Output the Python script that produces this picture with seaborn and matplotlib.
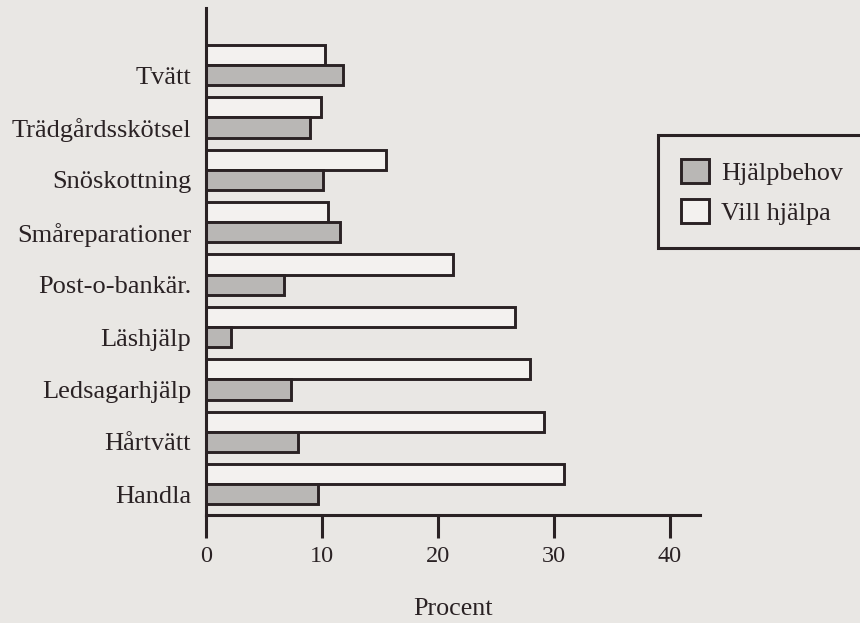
import pandas as pd
import numpy as np
import seaborn as sns
import matplotlib.pyplot as plt
from matplotlib.patches import Patch

# data (procent)
aktiviteter = ["Tvätt", "Trädgårdsskötsel", "Snöskottning", "Småreparationer",
               "Post-o-bankär.", "Läshjälp", "Ledsagarhjälp", "Hårtvätt", "Handla"]
vill_hjalpa = [10.2, 9.9, 15.5, 10.5, 21.3, 26.6, 27.9, 29.1, 30.9]
hjalpbehov = [11.8, 8.9, 10.1, 11.5, 6.7, 2.1, 7.3, 7.9, 9.6]
xticks = [0, 10, 20, 30, 40]

papper = "#e9e7e4"
bläck = "#2a2224"
färger = {"Vill hjälpa": "#f3f1ef", "Hjälpbehov": "#b9b7b5"}

sns.set_style("white")
plt.rcParams['font.family'] = ['Liberation Serif', 'DejaVu Serif']

df = pd.DataFrame({
    "aktivitet": aktiviteter * 2,
    "procent": vill_hjalpa + hjalpbehov,
    "grupp": ["Vill hjälpa"] * len(aktiviteter) + ["Hjälpbehov"] * len(aktiviteter),
})

fig = plt.figure(figsize=(8.6, 6.23), dpi=100, facecolor=papper)
ax = fig.add_axes([0.2401, 0.1734, 0.5738, 0.8138])
ax.set_facecolor(papper)

sns.barplot(data=df, y="aktivitet", x="procent", hue="grupp", order=aktiviteter,
            hue_order=["Vill hjälpa", "Hjälpbehov"], palette=färger, orient="h",
            width=0.77, edgecolor=bläck, linewidth=2.1, saturation=1,
            legend=False, ax=ax)

ax.set_xlim(0, 42.6)
ax.set_ylim(8.588, -1.088)

# etiketterna sitter i höjd med den grå stapeln
ax.set_yticks(np.arange(len(aktiviteter)) + 0.1925)
ax.set_yticklabels(aktiviteter)
ax.set_xticks(xticks)
ax.tick_params(axis="y", length=0, pad=11, labelsize=19, labelcolor=bläck)
ax.tick_params(axis="x", direction="out", length=16.5, width=2.2, color=bläck,
               pad=6, labelsize=17.5, labelcolor=bläck, bottom=True)

for s in ["top", "right"]:
    ax.spines[s].set_visible(False)
for s in ["left", "bottom"]:
    ax.spines[s].set_color(bläck)
    ax.spines[s].set_linewidth(2.2)

ax.set_ylabel("")
ax.set_xlabel("Procent", fontsize=18.8, color=bläck, labelpad=22)

handles = [Patch(facecolor=färger["Hjälpbehov"], edgecolor=bläck, linewidth=2.1),
           Patch(facecolor=färger["Vill hjälpa"], edgecolor=bläck, linewidth=2.1)]
leg = fig.legend(handles, ["Hjälpbehov", "Vill hjälpa"], loc="upper left",
                 bbox_to_anchor=(0.7651, 0.7833), fontsize=18.8, frameon=True,
                 fancybox=False, framealpha=1, borderpad=0.9, labelspacing=0.55,
                 handlelength=1.07, handleheight=1.05, handletextpad=0.45,
                 borderaxespad=0)
leg.get_frame().set_edgecolor(bläck)
leg.get_frame().set_linewidth(2.2)
leg.get_frame().set_facecolor(papper)
for t in leg.get_texts():
    t.set_color(bläck)

plt.savefig("out.png", dpi=100, facecolor=papper)
